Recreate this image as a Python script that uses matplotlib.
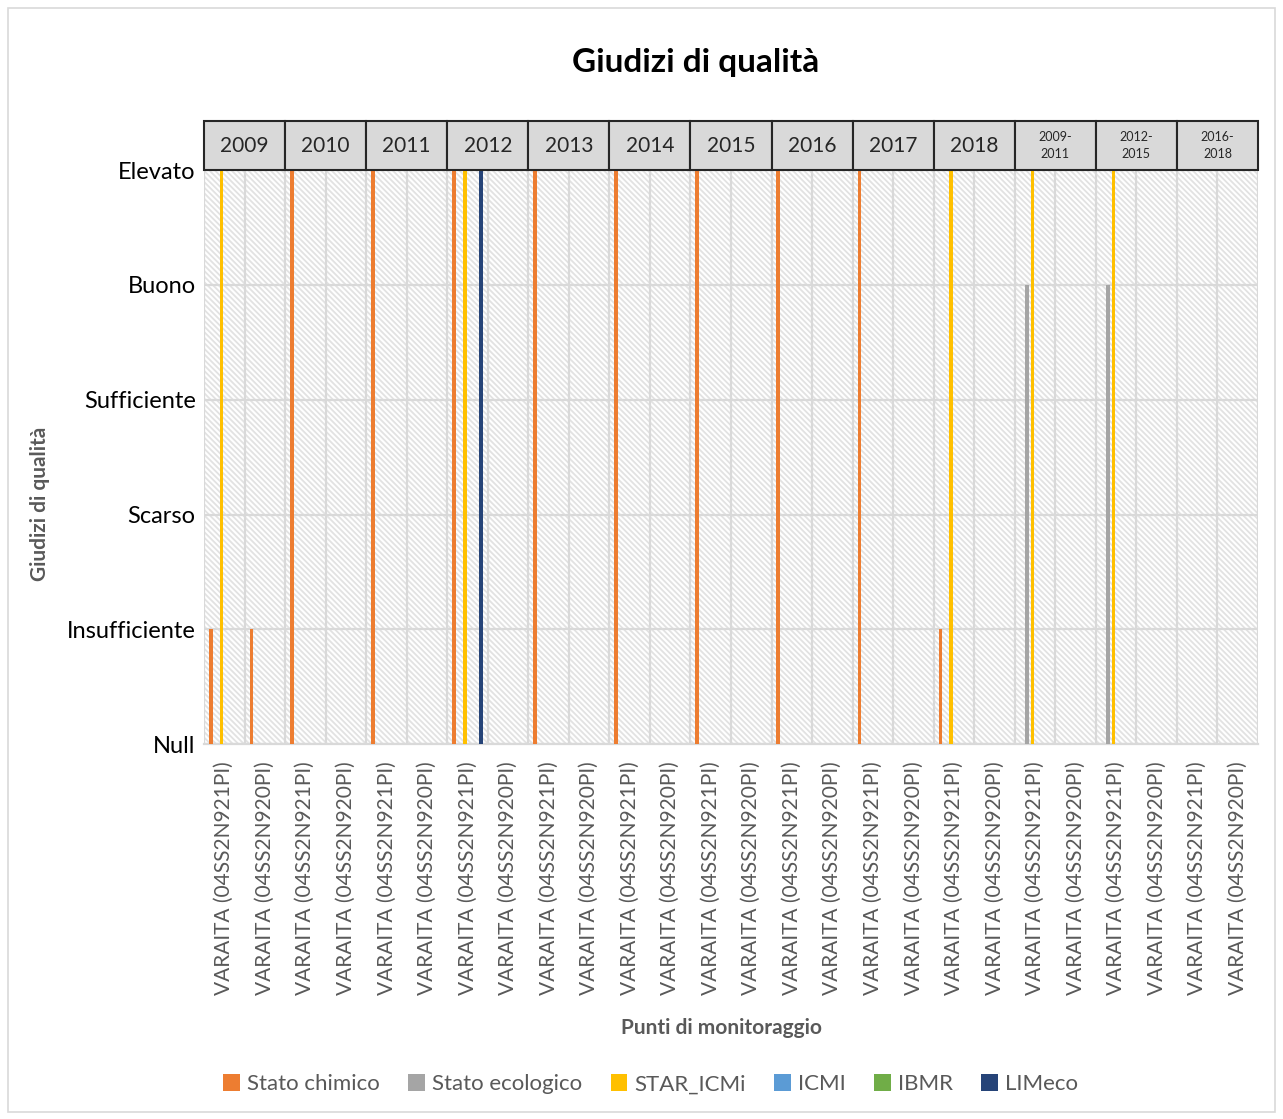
import numpy as np
import matplotlib
matplotlib.use("Agg")
import matplotlib.pyplot as plt
from matplotlib.patches import Rectangle
import matplotlib.transforms as mtransforms

plt.rcParams['font.family'] = ['Lato', 'DejaVu Sans']
plt.rcParams['hatch.linewidth'] = 1.3

# data
groups = ["2009", "2010", "2011", "2012", "2013", "2014", "2015", "2016",
          "2017", "2018", "2009-\n2011", "2012-\n2015", "2016-\n2018"]
stations = ["VARAITA (04SS2N921PI)", "VARAITA (04SS2N920PI)"]
levels = ["Null", "Insufficiente", "Scarso", "Sufficiente", "Buono", "Elevato"]

series_names = ["Stato chimico", "Stato ecologico", "STAR_ICMi", "ICMI", "IBMR", "LIMeco"]
series_colors = ["#ED7D31", "#A5A5A5", "#FFC000", "#5B9BD5", "#70AD47", "#264478"]

stato_chimico   = [1, 1, 5, 0, 5, 0, 5, 0, 5, 0, 5, 0, 5, 0, 5, 0, 5, 0, 1, 0, 0, 0, 0, 0, 0, 0]
stato_ecologico = [0, 0, 0, 0, 0, 0, 0, 0, 0, 0, 0, 0, 0, 0, 0, 0, 0, 0, 0, 0, 4, 0, 4, 0, 0, 0]
star_icmi       = [5, 0, 0, 0, 0, 0, 5, 0, 0, 0, 0, 0, 0, 0, 0, 0, 0, 0, 5, 0, 5, 0, 5, 0, 0, 0]
icmi            = [0] * 26
ibmr            = [0] * 26
limeco          = [0, 0, 0, 0, 0, 0, 5, 0, 0, 0, 0, 0, 0, 0, 0, 0, 0, 0, 0, 0, 0, 0, 0, 0, 0, 0]
all_series = [stato_chimico, stato_ecologico, star_icmi, icmi, ibmr, limeco]

categories = [s for g in groups for s in stations]
n = len(categories)
x = np.arange(n)

fig = plt.figure(figsize=(12.83, 11.19), dpi=100)
ax = fig.add_axes([0.159, 0.335, 0.8215, 0.513])

# hatched plot background
bg = Rectangle((0, 0), 1, 1, transform=ax.transAxes, facecolor="white",
               edgecolor="#e2e2e2", hatch="\\\\\\\\\\\\", lw=0, zorder=0)
ax.add_patch(bg)

step = 0.133
bw = 0.09
for i, (name, vals, col) in enumerate(zip(series_names, all_series, series_colors)):
    ax.bar(x + (i - 2.5) * step, vals, width=bw, color=col, label=name, zorder=3)

ax.set_xlim(-0.5, n - 0.5)
ax.set_ylim(0, 5)
ax.set_yticks(range(len(levels)))
ax.set_yticklabels(levels, fontsize=17)
ax.set_xticks(x)
ax.set_xticklabels(categories, rotation=90, fontsize=15, color="#595959")
ax.set_xticks(np.arange(n + 1) - 0.5, minor=True)
ax.tick_params(axis="both", which="both", length=0)
ax.tick_params(axis="x", pad=12)
ax.tick_params(axis="y", pad=6)
ax.grid(axis="y", color="#d9d9d9", lw=1.6, zorder=1)
ax.grid(axis="x", which="minor", color="#d9d9d9", lw=1.6, zorder=1)
ax.grid(axis="x", which="major", visible=False)
for s in ["top", "right", "left"]:
    ax.spines[s].set_visible(False)
ax.spines["bottom"].set_color("#d9d9d9")
ax.spines["bottom"].set_linewidth(1.6)

# year header boxes
trans = mtransforms.blended_transform_factory(ax.transData, ax.transAxes)
for k, g in enumerate(groups):
    x0 = 2 * k - 0.5
    ax.add_patch(Rectangle((x0, 1.0), 2, 0.085, transform=trans, facecolor="#d9d9d9",
                           edgecolor="#262626", lw=1.5, clip_on=False, zorder=4))
    fs = 15 if "\n" not in g else 9
    ax.text(x0 + 1, 1.0425, g, transform=trans, ha="center", va="center",
            fontsize=fs, color="#262626", linespacing=1.5, zorder=5)

fig.text(0.542, 0.944, "Giudizi di qualità", ha="center", va="center",
         fontsize=24, fontweight="bold", color="black")
fig.text(0.562, 0.081, "Punti di monitoraggio", ha="center", va="center",
         fontsize=15, fontweight="bold", color="#595959")
fig.text(0.031, 0.55, "Giudizi di qualità", ha="center", va="center", rotation=90,
         fontsize=15, fontweight="bold", color="#595959")

leg = fig.legend(loc="center", bbox_to_anchor=(0.507, 0.031), ncol=6, frameon=False,
                 fontsize=16, handlelength=0.75, handleheight=0.75, handletextpad=0.3,
                 columnspacing=1.3)
for t in leg.get_texts():
    t.set_color("#595959")

# outer chart border
fig.add_artist(Rectangle((0.006, 0.006), 0.988, 0.987, transform=fig.transFigure,
                         fill=False, edgecolor="#d9d9d9", lw=1.2))

fig.savefig("out.png", dpi=100)
